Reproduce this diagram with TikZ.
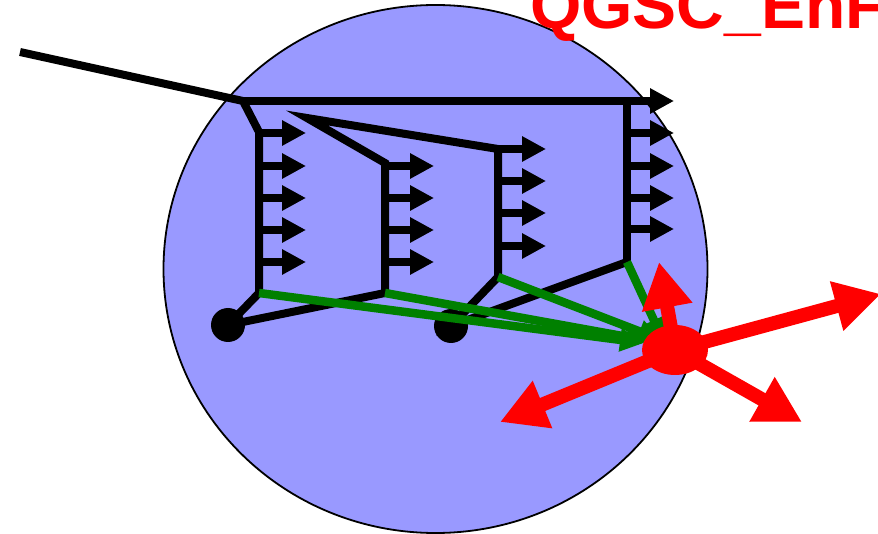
\documentclass[tikz,border=0pt]{standalone}
\usepackage{fontspec}
\setmainfont{Liberation Sans}
\usetikzlibrary{arrows.meta,shapes.geometric}
\definecolor{bubble}{HTML}{9999FF}
\definecolor{gline}{HTML}{008000}
\begin{document}
\begin{tikzpicture}[x=1pt,y=-1pt,
  chain/.style={line width=8pt, black},
  emit/.style={line width=8pt, black, -{Triangle[length=24pt,width=24pt]}},
  flow/.style={line width=8.5pt, gline, -{Triangle[length=24pt,width=22pt]}},
  burst/.style={line width=14pt, red, -{Triangle[length=46pt,width=48pt]}},
  vertex/.style={circle, fill=black, minimum size=34pt, inner sep=0pt},
  hubstyle/.style={ellipse, fill=red, minimum width=66pt, minimum height=50pt, inner sep=0pt},
]
\useasboundingbox (0,0) rectangle (878,534);
\clip (0,0) rectangle (878,534);

% nucleus
\fill[bubble, draw=black, line width=1.8pt] (435.5,269) ellipse [x radius=272pt, y radius=264pt];

% title
\node[anchor=base west, inner sep=0pt, text=red, font=\bfseries\fontsize{66}{66}\selectfont] (title) at (530,29) {QGSC\_EnF};

% vertices of the string chain
\coordinate (in) at (20,52);
\coordinate (j0) at (243,101);
\coordinate (out) at (674,101);
\coordinate (a0) at (259,132);
\coordinate (a1) at (259,293);
\coordinate (s0) at (307,118);
\coordinate (b0) at (385,163);
\coordinate (b1) at (385,293);
\coordinate (c0) at (498,149);
\coordinate (c1) at (498,277);
\coordinate (d0) at (627,101);
\coordinate (d1) at (627,262);

% projectile and strings
\draw[chain] (in) -- (j0) -- (a0) -- (a1);
\draw[emit] (j0) -- (out);
\draw[chain] (b1) -- (b0) -- (s0) -- (c0) -- (c1);
\draw[chain] (d0) -- (d1);

% emitted quanta
\foreach \y in {133,166,198,230,262} \draw[emit] (a0 |- 0,\y) -- ++(47,0);
\foreach \y in {166,198,230,262} \draw[emit] (b0 |- 0,\y) -- ++(49,0);
\foreach \y in {149,181,213,246} \draw[emit] (c0 |- 0,\y) -- ++(48,0);
\foreach \y in {133,166,198,229} \draw[emit] (d0 |- 0,\y) -- ++(47,0);

% nucleons
\node[vertex] (v1) at (228,325) {};
\node[vertex] (v2) at (451,326) {};
\draw[chain] (a1) -- (v1.center) -- (b1);
\draw[chain] (c1) -- (v2.center) -- (d1);

% residual nucleus and fragments
\coordinate (g1) at (644,343);
\coordinate (g2) at (650,341);
\coordinate (g3) at (662,340);
\coordinate (g4) at (664,342);
\draw[flow] (a1) -- (g1);
\draw[flow] (b1) -- (g2);
\draw[flow] (c1) -- (g3);
\draw[flow] (d1) -- (g4);

\node[hubstyle] (hub) at (675,350) {};
\coordinate (r1) at (659,262);
\coordinate (r2) at (881,294);
\coordinate (r3) at (500,422);
\coordinate (r4) at (802,422);
\draw[burst] (hub.center) -- (r1);
\draw[burst] (hub.center) -- (r2);
\draw[burst] (hub.center) -- (r3);
\draw[burst] (hub.center) -- (r4);
\end{tikzpicture}
\end{document}
